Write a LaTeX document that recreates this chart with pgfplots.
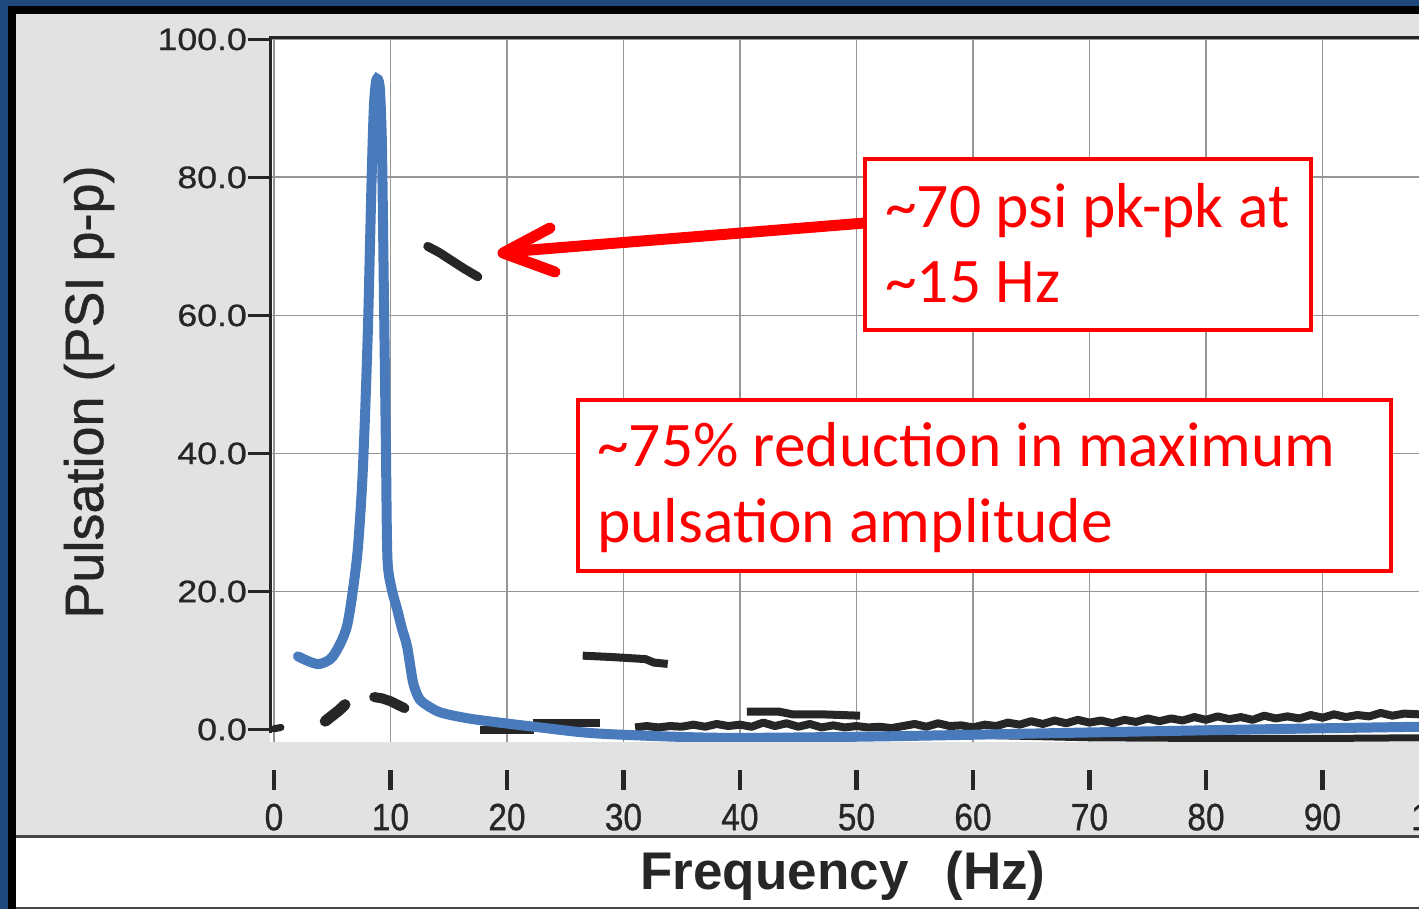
\documentclass[border=0pt]{standalone}
\usepackage{fontspec}
\usepackage{pgfplots}
\pgfplotsset{compat=1.18}
\setmainfont{Liberation Sans}
\newfontfamily\calib{Carlito}
\newfontfamily\yfont[FakeStretch=1.15,FakeBold=0.8]{Liberation Sans}
\newfontfamily\xfont[FakeStretch=0.88,FakeBold=0.8]{Liberation Sans}
\newfontfamily\lblfont[FakeBold=0.8]{Liberation Sans}
\definecolor{navy}{RGB}{31,73,125}
\definecolor{scan}{RGB}{226,226,226}
\definecolor{gridc}{RGB}{150,150,150}
\definecolor{blueline}{RGB}{72,122,188}
\definecolor{ink}{RGB}{38,38,38}
\definecolor{redc}{RGB}{255,0,0}
\definecolor{strip}{RGB}{70,70,70}
\begin{document}
\begin{tikzpicture}
\clip (0pt,0pt) rectangle (1419pt,909pt);
\fill[navy] (0pt,0pt) rectangle (1419pt,909pt);
\fill[black] (8pt,0pt) rectangle (1419pt,903pt);
\fill[scan] (16pt,0pt) rectangle (1419pt,895pt);
\fill[white] (16pt,0pt) rectangle (1419pt,72pt);
\draw[line width=3pt, strip] (16pt,72pt) -- (1419pt,72pt);
\draw[line width=2pt, strip] (16pt,1pt) -- (1419pt,1pt);
\begin{axis}[
  at={(270pt,167pt)}, anchor=south west, scale only axis,
  width=1149pt, height=704pt,
  xmin=-0.34, xmax=98.28, ymin=-1.81, ymax=100.2,
  axis background/.style={fill=white},
  axis line style={draw=none},
  xtick={0,10,...,90}, ytick={20,40,...,100},
  extra y ticks={0}, extra y tick style={grid=none},
  grid=major, major grid style={draw=gridc, line width=1.8pt},
  tick align=outside, tick pos=left, major tick length=22pt,
  xtick style={draw=none},
  ytick style={line width=3pt, color=ink},
  /pgf/number format/assume math mode=true,
  yticklabel={\yfont\pgfmathprintnumber[fixed,fixed zerofill,precision=1]{\tick}},
  yticklabel style={inner sep=1pt, font=\fontsize{31}{31}\selectfont, text=ink},
  xticklabel={\rule{4.5pt}{20pt}\\\xfont\pgfmathprintnumber{\tick}},
  xticklabel style={align=center, inner sep=0pt, font=\fontsize{38}{40}\selectfont, text=ink, anchor=north, yshift=-6pt},
]
% "before" spectrum (black scan marks)
\addplot[ink, line width=7pt, line cap=round, line join=round] coordinates {(0,0.1) (0.6,0.3)};
\addplot[ink, line width=11pt, line cap=round, line join=round] coordinates {(4.4,1.2) (5.0,2.0) (5.6,2.8) (6.1,3.6)};
\addplot[ink, line width=10pt, line cap=round, line join=round] coordinates {(8.6,4.7) (9.3,4.5) (10.0,4.1) (10.6,3.6) (11.2,3.1)};
\addplot[ink, line width=9pt, line cap=round, line join=round] coordinates {(13.2,70.0) (14.2,69.1) (15.2,68.0) (16.3,66.8) (17.5,65.6)};
\addplot[ink, line width=8pt, line join=round] coordinates {(17.7,-0.1) (22.3,-0.1)};
\addplot[ink, line width=8pt, line join=round] coordinates {(22.2,0.9) (28.0,0.9)};
\addplot[ink, line width=8pt, line join=round] coordinates {(26.5,10.7) (29.0,10.5) (31.9,10.2) (32.6,9.7) (33.8,9.5)};
\addplot[ink, line width=8pt, line join=round] coordinates {(40.6,2.6) (43.3,2.6) (44.5,2.2) (47.0,2.2) (50.3,2.0)};
\addplot[ink, line width=8pt, line join=round] coordinates {
(31.0,0.3) (32,0.5) (33,0.3) (34,0.5) (35,0.4) (36,0.7) (37,0.4) (38,0.8) (39,0.5) (40,0.7)
(41,0.4) (42,1.0) (43,0.5) (44,0.9) (45,0.4) (46,0.8) (47,0.3) (48,0.6) (49,0.3) (50,0.5)
(51,0.3) (52,0.4) (53,0.2) (54,0.5) (55,0.8) (56,0.4) (57,0.9) (58,0.5) (59,0.6) (60,0.3)
(61,0.7) (62,0.5) (63,1.0) (64,0.7) (65,1.2) (66,0.8) (67,1.3) (68,0.9) (69,1.4) (70,1.0)
(71,1.3) (72,0.9) (73,1.4) (74,1.1) (75,1.6) (76,1.2) (77,1.6) (78,1.3) (79,1.8) (80,1.4)
(81,1.9) (82,1.5) (83,1.8) (84,1.4) (85,2.0) (86,1.6) (87,1.9) (88,1.6) (89,2.1) (90,1.7)
(91,2.2) (92,1.8) (93,2.1) (94,1.9) (95,2.4) (96,2.0) (97,2.3) (98.3,2.2)};
\addplot[ink, line width=7pt, line join=round] coordinates {(62,-0.9) (70,-1.2) (80,-1.3) (90,-1.3) (98.3,-1.2)};
% "after" spectrum (blue)
\addplot[blueline, line width=10pt, smooth, tension=0.45, line cap=round] coordinates {
(2.06,10.6) (3.09,9.8) (3.95,9.5) (5.06,10.6) (6.27,15.0) (7.12,24.8) (7.55,35.0) (7.81,45.2)
(8.07,58.3) (8.24,70.0) (8.41,81.6) (8.58,90.4) (8.76,93.9) (8.93,94.2) (9.10,92.6) (9.27,84.5)
(9.44,62.7) (9.61,40.8) (9.74,24.8) (10.1,20.4) (10.56,17.5) (10.99,14.6) (11.42,12.1) (11.93,6.9)
(12.36,4.8) (12.79,3.9) (14.25,2.5) (17.08,1.5) (22.83,0.3) (27.98,-0.6) (38.3,-1.2) (52.0,-1.0)
(70.9,-0.4) (83.8,0.0) (98.3,0.4)};
\end{axis}
% axis frame lines (left and top)
\draw[line width=3pt, ink] (270pt,176pt) -- (270pt,871pt) -- (1419pt,871pt);
% partially visible "100" tick label at the right edge
\pgfinterruptboundingbox
\node[anchor=north, align=center, inner sep=0pt, font=\fontsize{38}{40}\selectfont, text=ink] at (1439pt,139pt) {\rule{4.5pt}{20pt}\\\xfont 100};
\endpgfinterruptboundingbox
% axis titles
\node[rotate=90, anchor=base, inner sep=0pt, text=ink] at (103pt,517pt) {\lblfont\fontsize{54}{54}\selectfont Pulsation (PSI p-p)};
\node[anchor=base, inner sep=0pt, text=ink] at (843pt,19pt) {\fontsize{53}{53}\selectfont\bfseries Frequency\hspace{37pt}(Hz)};
% annotations
\draw[redc, line width=11pt, line cap=round] (865pt,686pt) -- (506pt,657pt);
\draw[redc, line width=11pt, line cap=round, line join=round] (550pt,681pt) -- (503pt,656pt) -- (555pt,637pt);
\draw[redc, line width=4.5pt, fill=white] (865pt,750pt) rectangle (1311pt,579pt);
\draw[redc, line width=4.5pt, fill=white] (578pt,509pt) rectangle (1391pt,338pt);
\node[anchor=base west, inner sep=0pt, text=redc] at (885pt,681pt) {\calib\fontsize{63.5}{76}\selectfont\textasciitilde70 psi pk-pk at};
\node[anchor=base west, inner sep=0pt, text=redc] at (885pt,606pt) {\calib\fontsize{63.5}{76}\selectfont\textasciitilde15 Hz};
\node[anchor=base west, inner sep=0pt, text=redc] at (597pt,442pt) {\calib\fontsize{63.5}{76}\selectfont\textasciitilde75\% reduction in maximum};
\node[anchor=base west, inner sep=0pt, text=redc] at (597pt,366pt) {\calib\fontsize{63.5}{76}\selectfont pulsation amplitude};
\end{tikzpicture}
\end{document}
